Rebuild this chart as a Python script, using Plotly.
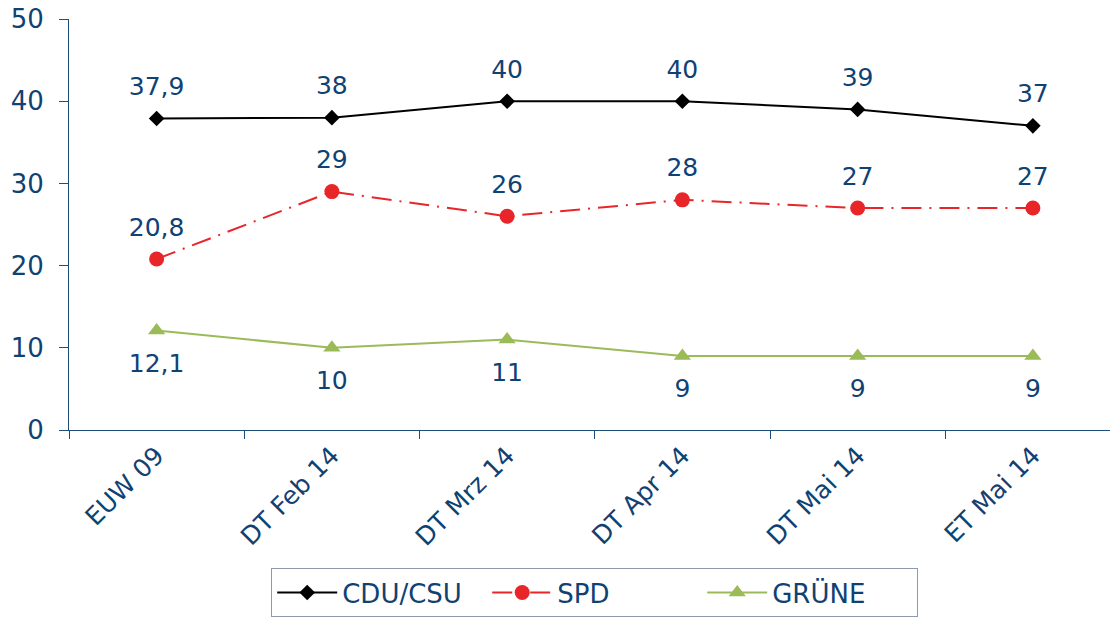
import plotly.graph_objects as go

categories = ["EUW 09", "DT Feb 14", "DT Mrz 14", "DT Apr 14", "DT Mai 14", "ET Mai 14"]
cdu = [37.9, 38, 40, 40, 39, 37]
spd = [20.8, 29, 26, 28, 27, 27]
gruene = [12.1, 10, 11, 9, 9, 9]
y_ticks = [0, 10, 20, 30, 40, 50]

def lab(v):
    return f"{v:g}".replace(".", ",")

txt_color = "#0F4273"
font_fam = "DejaVu Sans"
axis_color = "#1F4E79"

series = [
    ("CDU/CSU", cdu, dict(color="black", width=2), dict(symbol="diamond", size=12, color="black"), "top center", 26),
    ("SPD", spd, dict(color="#E8262A", width=2, dash="20px,8px,2px,8px"), dict(symbol="circle", size=15, color="#E8262A"), "top center", 26),
    ("GRÜNE", gruene, dict(color="#9BBB59", width=2), dict(symbol="triangle-up", size=15, color="#9BBB59"), "bottom center", 34),
]

fig = go.Figure()
for name, vals, line, marker, pos, lblsize in series:
    fig.add_trace(go.Scatter(
        x=categories, y=vals, name=name, mode="lines+markers",
        line=line, marker=marker, hoverinfo="x+y+name",
    ))
for name, vals, line, marker, pos, lblsize in series:
    # invisible markers used only to offset the data labels
    fig.add_trace(go.Scatter(
        x=categories, y=vals, mode="markers+text", showlegend=False,
        marker=dict(size=lblsize, color="rgba(0,0,0,0)"),
        text=[lab(v) for v in vals], textposition=pos,
        textfont=dict(size=25, color=txt_color, family=font_fam),
        hoverinfo="skip",
    ))

fig.update_layout(
    width=1112, height=619,
    margin=dict(l=69, r=2, t=19, b=186),
    paper_bgcolor="white", plot_bgcolor="white",
    font=dict(family=font_fam, color=txt_color, size=25),
    showlegend=True,
    legend=dict(
        orientation="h", x=0.505, xanchor="center", y=-0.336, yanchor="top",
        bordercolor="#8C9AAB", borderwidth=1,
        font=dict(size=26, color=txt_color, family=font_fam),
        itemwidth=60, entrywidth=140, entrywidthmode="pixels",
    ),
    xaxis=dict(
        type="category", range=[-0.5, 5.44],
        showline=True, linecolor=axis_color, linewidth=1,
        ticks="outside", tickson="boundaries", ticklen=8, tickcolor=axis_color,
        tickangle=-45, tickfont=dict(size=25, color=txt_color, family=font_fam),
        showgrid=False, zeroline=False,
    ),
    yaxis=dict(
        range=[0, 50], tickvals=y_ticks,
        showline=True, linecolor=axis_color, linewidth=1,
        ticks="outside", ticklen=9, tickcolor=axis_color,
        tickfont=dict(size=26, color=txt_color, family=font_fam),
        ticklabelstandoff=10, ticklabeloverflow="allow",
        showgrid=False, zeroline=False,
    ),
)
fig.write_html(
    "out.html",
    config={"displayModeBar": False},
    post_script="document.body.style.margin='0';document.body.style.overflow='hidden';",
)
